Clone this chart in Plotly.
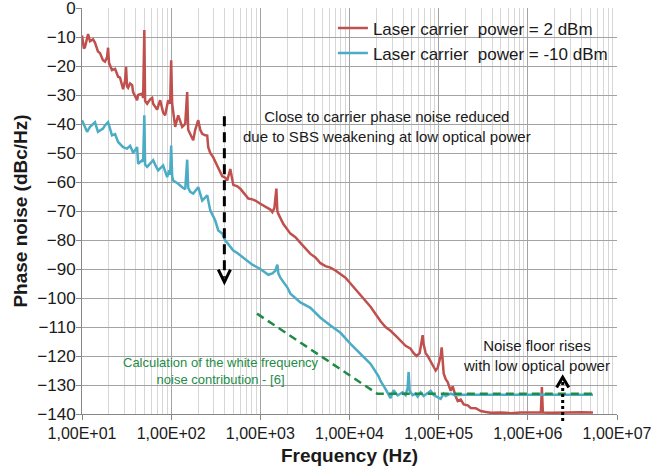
import math
import plotly.graph_objects as go

# ---------------- data ----------------
freq_red = [10, 10.5, 10.8, 11.4, 11.7, 12.3, 13.3, 14.0, 15.1, 15.9, 17.2, 18.1, 19.1, 19.6, 20.1,
            21.7, 23.5, 25.4, 26.7, 28.9, 30.4, 31.2, 32.0, 32.9, 34.6, 36.5, 37.4, 41.5, 42.6,
            47.2, 48.5, 50, 51.0, 53.8, 58.1, 61.2, 62.8, 66.1, 69.6, 75.2, 81.3, 85.6, 90.2,
            92.5, 97.4, 100, 102.6, 105.3, 110.9, 119.9, 126.2, 132.9, 143.7, 151.2, 155.2,
            163.5, 176.7, 186.1, 201.2, 211.8, 223.0, 241.0, 253.8, 260.4, 274.3, 296.5, 312.2,
            337.5, 355.4, 374.1, 404.4, 425.9, 460.3, 497.5, 551.5, 596.1, 661.1, 733.2, 813.3,
            878.6, 1000, 1138, 1198, 1295, 1364, 1437, 1513, 1552, 1593, 1813, 2174, 2474, 2814,
            3203, 3646, 4150, 4723, 5376, 6117, 6962, 7924, 9017, 10262, 11680, 13292, 15127,
            17219, 19596, 22300, 25380, 28889, 32880, 37410, 42580, 48460, 52390, 56600, 58080,
            61170, 62780, 66110, 67850, 71440, 75220, 81310, 87890, 92530, 97450, 105300,
            108100, 113800, 119900, 126200, 136400, 143700, 155300, 163500, 176700, 191000,
            211800, 228800, 260400, 296500, 337500, 384000, 497500, 644200, 834400, 1080600,
            1329000, 1400000, 1437000, 1474000, 1813000, 2349000, 3042000, 3940000, 5376000]
noise_red = [-9.5, -14, -13.5, -10, -9, -11.5, -10.8, -12, -15, -15.5, -18, -18.5, -17, -13.7, -19,
             -21.4, -21, -23.7, -24, -28, -25, -20.3, -27, -27.5, -26, -26.6, -29, -31.8, -30,
             -29.5, -31, -7.6, -32, -33, -31.5, -31, -33, -34, -35, -31.8, -36, -37, -34,
             -31.8, -33, -18, -33, -36.4, -41, -37, -39, -41, -40, -29, -42,
             -43.4, -45.6, -42, -38.7, -42, -43.4, -43.9, -44, -48, -50, -51.5, -53,
             -55, -57, -58, -58.5, -59.5, -55.5, -61, -61.5, -62.3, -64, -65.7, -66,
             -66.4, -67.5, -68.5, -69, -69.5, -70.4, -69, -62.3, -70, -71, -74.5, -77.8, -79, -81,
             -83, -84.8, -86, -88, -89, -89.5, -90.5, -91.6, -93, -95, -97, -99, -101,
             -103, -105.5, -108, -110, -111.3, -113, -114.8, -116.5, -117.5, -119, -120, -119.7,
             -119, -117, -112.8, -116, -119, -120, -122, -124, -125, -124, -120,
             -117, -126, -128, -129, -132, -130.5, -134, -135.5, -135, -136.7,
             -137, -137.9, -138, -139, -139.3, -139.6, -139.5, -139.7, -139.5, -139.6,
             -139.6, -139.5, -130.7, -139.5, -139.6, -139.5, -139.6, -139.4, -139.5]

freq_blue = [10, 10.8, 11.4, 12.3, 14.0, 15.1, 17.2, 18.1, 19.6, 21.7, 23.5, 25.4, 28.9, 32.0,
             34.6, 36.5, 37.4, 41.5, 42.6, 47.2, 48.5, 50, 51.0, 53.8, 58.1, 62.8, 66.1, 71.4,
             81.3, 90.2, 95.0, 97.4, 100, 102.6, 105.3, 119.9, 132.9, 143.7, 151.2, 155.2, 163.5,
             176.7, 201.2, 223.0, 253.8, 274.3, 312.2, 337.5, 374.1, 404.4, 425.9, 497.5, 551.5,
             661.1, 813.3, 1000, 1230, 1364, 1474, 1552, 1593, 1677, 2011, 2174, 2814, 3646,
             4723, 6117, 7924, 10262, 13292, 17219, 21176, 22300, 25380, 27426, 28889, 31215,
             34624, 39400, 42580, 44850, 46030, 47240, 51050, 55150, 58080, 62780, 67850,
             75220, 81310, 87890, 97450, 105300, 113800, 119900, 136400, 155300, 191000,
             296500, 644200, 1400000, 3042000, 5376000]
noise_blue = [-38.7, -41, -42.7, -41, -39.4, -42.7, -41.6, -40.5, -39.4, -43.9, -43.5, -46.2, -48, -48.5,
              -47.5, -49, -50, -48, -53.7, -52.5, -53, -37, -54, -54.8, -53.5, -52.5, -54, -56,
              -54.3, -58.3, -56, -57.5, -47.4, -58, -59.5, -60.6, -61.8, -62.5, -52.3, -62, -63.4,
              -64, -61.8, -66.4, -64.6, -69.8, -73.3, -76.7, -77.8, -80.2, -81, -83.6, -84.5,
              -86.4, -88.5, -90, -92, -91.5, -90.6, -88.5, -91.5, -93, -96.4, -98.5, -101.5, -103.4,
              -106.8, -109.5, -112, -115.8, -119.3, -122.7, -127, -128.6, -131.4, -133, -134.5, -131.8,
              -133.6, -132.5, -133.5, -131, -125.5, -132, -133.5, -133, -134, -132.5, -133.8,
              -132.8, -132, -133.5, -134.2, -134.8, -133, -133.8, -133, -133.5, -133.4,
              -133.4, -133.4, -133.4, -133.4, -133.4]

freq_model = [918, 20470, 5376000]
noise_model = [-105.4, -133.0, -133.0]

x_tick_vals = [1e1, 1e2, 1e3, 1e4, 1e5, 1e6, 1e7]
x_tick_text = ["1,00E+01", "1,00E+02", "1,00E+03", "1,00E+04", "1,00E+05", "1,00E+06", "1,00E+07"]
y_tick_vals = list(range(-140, 1, 10))

# ---------------- styling ----------------
FONT = "Arial, 'Liberation Sans', sans-serif"
RED = "#C0504D"
BLUE = "#4BACC6"
GREEN = "#1E8C46"
MAJ_GRID = "#a3a3a3"
MIN_GRID = "#d6d6d6"

X_LOG_RANGE = [1, 7]
Y_RANGE = [-140, 0]


def px(f):
    return (math.log10(f) - X_LOG_RANGE[0]) / (X_LOG_RANGE[1] - X_LOG_RANGE[0])


def py(v):
    return (v - Y_RANGE[0]) / (Y_RANGE[1] - Y_RANGE[0])


fig = go.Figure()
fig.add_trace(go.Scatter(x=freq_red, y=noise_red, mode="lines", name="Laser carrier  power = 2 dBm",
                         line=dict(color=RED, width=2.5)))
fig.add_trace(go.Scatter(x=freq_blue, y=noise_blue, mode="lines", name="Laser carrier  power = -10 dBm",
                         line=dict(color=BLUE, width=2.5)))
fig.add_trace(go.Scatter(x=freq_model, y=noise_model, mode="lines", showlegend=False,
                         line=dict(color=GREEN, width=2.5, dash="8px,5px")))

minor_vals = [m * 10 ** d for d in range(1, 7) for m in range(2, 10)]

# arrow annotations (shapes in paper coordinates)
arrow1_f, arrow1_top, arrow1_tip = 395, -37.3, -94.5
arrow2_f, arrow2_bottom, arrow2_tip = 2.46e6, -142.4, -127.3
wing = 0.068 / 6
shapes = [
    dict(type="line", xref="paper", yref="paper", x0=px(arrow1_f), x1=px(arrow1_f),
         y0=py(arrow1_top), y1=py(arrow1_tip + 1.5), line=dict(color="black", width=3, dash="10px,6px")),
    dict(type="path", xref="paper", yref="paper",
         path=f"M {px(arrow1_f) - wing},{py(arrow1_tip + 4.3)} L {px(arrow1_f)},{py(arrow1_tip)} L {px(arrow1_f) + wing},{py(arrow1_tip + 4.3)}",
         line=dict(color="black", width=3)),
    dict(type="line", xref="paper", yref="paper", x0=px(arrow2_f), x1=px(arrow2_f),
         y0=py(arrow2_bottom), y1=py(arrow2_tip - 1.0), line=dict(color="black", width=3, dash="dot")),
    dict(type="path", xref="paper", yref="paper",
         path=f"M {px(arrow2_f) - wing},{py(arrow2_tip - 3.6)} L {px(arrow2_f)},{py(arrow2_tip)} L {px(arrow2_f) + wing},{py(arrow2_tip - 3.6)}",
         line=dict(color="black", width=3)),
]

annotations = [
    dict(text="Close to carrier phase noise reduced<br>due to SBS weakening at low optical power",
         xref="paper", yref="paper", x=0.570, y=0.708, xanchor="center", yanchor="middle",
         showarrow=False, font=dict(family=FONT, size=15, color="#1a1a1a")),
    dict(text="Calculation of the white frequency<br>noise contribution - [6]",
         xref="paper", yref="paper", x=0.26, y=0.107, xanchor="center", yanchor="middle",
         showarrow=False, font=dict(family=FONT, size=13, color=GREEN)),
    dict(text="Noise floor rises<br>with low optical power",
         xref="paper", yref="paper", x=0.850, y=0.145, xanchor="center", yanchor="middle",
         showarrow=False, font=dict(family=FONT, size=15, color="#1a1a1a")),
]

fig.update_layout(
    width=656, height=470,
    margin=dict(l=82, r=39, t=8, b=56, autoexpand=False),
    paper_bgcolor="white", plot_bgcolor="white",
    font=dict(family=FONT, size=15, color="#1a1a1a"),
    showlegend=True,
    legend=dict(x=0.469, y=0.994, xanchor="left", yanchor="top", bgcolor="rgba(0,0,0,0)",
                font=dict(family=FONT, size=17, color="#1a1a1a"), tracegroupgap=0),
    shapes=shapes,
    annotations=annotations,
)

fig.update_xaxes(
    type="log", range=X_LOG_RANGE, automargin=False,
    tickmode="array", tickvals=x_tick_vals, ticktext=x_tick_text,
    ticks="outside", ticklen=5, tickcolor="#868686",
    showgrid=True, gridcolor=MAJ_GRID, gridwidth=1,
    minor=dict(tickmode="array", tickvals=minor_vals, showgrid=True, gridcolor=MIN_GRID, ticks=""),
    showline=True, linecolor="#868686", linewidth=1,
    tickfont=dict(family=FONT, size=16, color="#1a1a1a"),
    ticklabeloverflow="allow",
    title=dict(text="<b>Frequency (Hz)</b>", font=dict(family=FONT, size=19, color="#1a1a1a"), standoff=7),
    zeroline=False,
)
fig.update_yaxes(
    range=Y_RANGE, tickmode="array", tickvals=y_tick_vals, automargin=False,
    ticks="outside", ticklen=5, tickcolor="#868686",
    showgrid=True, gridcolor=MAJ_GRID, gridwidth=1,
    showline=True, linecolor="#868686", linewidth=1,
    tickfont=dict(family=FONT, size=17, color="#1a1a1a"),
    ticklabeloverflow="allow", ticklabelstandoff=-3,
    title=dict(text="<b>Phase noise (dBc/Hz)</b>", font=dict(family=FONT, size=19, color="#1a1a1a"), standoff=4),
    zeroline=False,
)

fig.write_html("out.html", config={"displayModeBar": False},
               post_script="document.body.style.margin='0px';")
